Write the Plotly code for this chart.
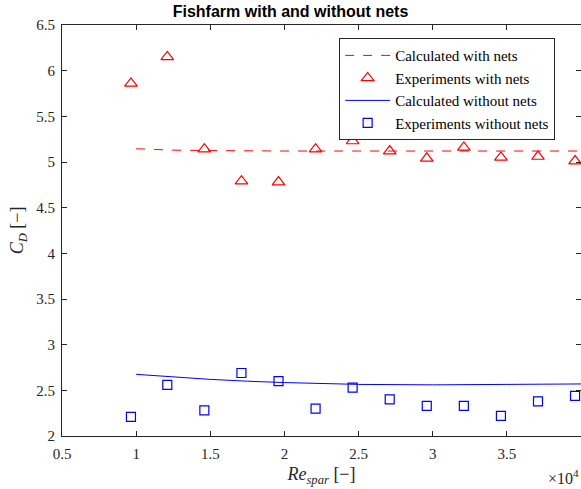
import plotly.graph_objects as go

# Data (Re_spar in units of 1e4)
re_exp = [0.965, 1.21, 1.46, 1.71, 1.96, 2.21, 2.46, 2.71, 2.96, 3.21, 3.46, 3.71, 3.96]
cd_exp_nets = [5.86, 6.15, 5.14, 4.79, 4.78, 5.14, 5.23, 5.12, 5.04, 5.16, 5.05, 5.06, 5.01]
cd_exp_nonets = [2.21, 2.56, 2.28, 2.69, 2.60, 2.30, 2.53, 2.40, 2.33, 2.33, 2.22, 2.38, 2.44]

re_calc = [1.0, 1.25, 1.5, 1.75, 2.0, 2.5, 3.0, 3.5, 4.0]
cd_calc_nets = [5.145, 5.13, 5.125, 5.12, 5.12, 5.12, 5.12, 5.12, 5.12]
cd_calc_nonets = [2.675, 2.645, 2.62, 2.60, 2.585, 2.565, 2.56, 2.565, 2.57]

xticks = [0.5, 1, 1.5, 2, 2.5, 3, 3.5, 4]
yticks = [2, 2.5, 3, 3.5, 4, 4.5, 5, 5.5, 6, 6.5]

SERIF = "Liberation Serif"

fig = go.Figure()
fig.add_trace(go.Scatter(x=re_calc, y=cd_calc_nets, mode="lines",
                         line=dict(color="#ff0000", dash="dash", width=1),
                         name="Calculated with nets"))
fig.add_trace(go.Scatter(x=re_exp, y=cd_exp_nets, mode="markers",
                         marker=dict(symbol="triangle-up-open", size=11, color="#ff0000",
                                     line=dict(width=1.2)),
                         name="Experiments with nets"))
fig.add_trace(go.Scatter(x=re_calc, y=cd_calc_nonets, mode="lines",
                         line=dict(color="#0000ff", width=1),
                         name="Calculated without nets"))
fig.add_trace(go.Scatter(x=re_exp, y=cd_exp_nonets, mode="markers",
                         marker=dict(symbol="square-open", size=9, color="#0000ff",
                                     line=dict(width=1.2)),
                         name="Experiments without nets"))

axis_common = dict(showgrid=False, zeroline=False, showline=True, linecolor="#262626",
                   linewidth=1, mirror="ticks", ticks="inside", ticklen=5,
                   tickcolor="#262626", tickfont=dict(family=SERIF, size=15, color="#262626"))

fig.update_xaxes(range=[0.5, 4], tickvals=xticks, ticktext=[f"{v:g}" for v in xticks],
                 ticklabelstandoff=4,
                 title=dict(text="<i>Re<sub>spar</sub></i> [−]", font=dict(family=SERIF, size=18, color="#262626"),
                            standoff=6),
                 **axis_common)
fig.update_yaxes(range=[2, 6.5], tickvals=yticks, ticktext=[f"{v:g}" for v in yticks],
                 ticklabelstandoff=3,
                 title=dict(text="<i>C<sub>D</sub></i> [−]", font=dict(family=SERIF, size=18, color="#262626"),
                            standoff=7),
                 **axis_common)

fig.update_layout(
    width=581, height=489,
    margin=dict(l=62, r=0, t=25, b=53),
    paper_bgcolor="white", plot_bgcolor="white",
    title=dict(text="<b>Fishfarm with and without nets</b>", x=0.5, xanchor="center",
               y=0.976, yanchor="middle",
               font=dict(family="Liberation Sans", size=16, color="black")),
    legend=dict(x=0.534, y=0.968, xanchor="left", yanchor="top",
                bgcolor="white", bordercolor="#262626", borderwidth=1,
                font=dict(family=SERIF, size=15, color="black"),
                tracegroupgap=0, itemwidth=45),
    annotations=[dict(text="×10<sup>4</sup>", xref="paper", yref="paper", x=1.0, y=-0.07,
                      xanchor="right", yanchor="top", showarrow=False,
                      font=dict(family=SERIF, size=16, color="#262626"))],
)

fig.write_html("out.html")
